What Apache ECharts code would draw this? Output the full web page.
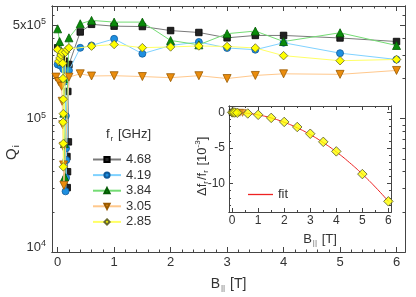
<!DOCTYPE html>
<html><head><meta charset="utf-8">
<script src="https://cdn.jsdelivr.net/npm/echarts@6/dist/echarts.min.js"></script>
<style>html,body{margin:0;padding:0;background:#fff}#c{width:416px;height:297px}</style>
</head><body><div id="c"></div>
<script>
// ---- data ----
const seriesNames = ['4.68','4.19','3.84','3.05','2.85'];
const B_468 = [0, 0.07, 0.12, 0.16, 0.18, 0.19, 0.165, 0.175, 0.17, 0.2, 0.4, 0.6, 1.0, 1.5, 2.0, 2.5, 3.0, 3.5, 4.0, 5.0, 6.0];
const Q_468 = [3.4e5, 2.95e5, 2.7e5, 2.3e5, 1.6e5, 6.7e4, 5.2e4, 4.0e4, 3.04e4, 2.55e5, 4.47e5, 5.1e5, 4.94e5, 4.91e5, 4.58e5, 4.43e5, 4.04e5, 4.21e5, 4.21e5, 4.03e5, 3.79e5];
const B_419 = [0, 0.05, 0.1, 0.13, 0.145, 0.15, 0.155, 0.15, 0.14, 0.2, 0.4, 0.6, 1.0, 1.5, 2, 2.5, 3, 3.5, 4, 5, 6];
const Q_419 = [2.55e5, 2.5e5, 2.35e5, 1.9e5, 1.05e5, 6e4, 4.9e4, 3.6e4, 2.85e4, 2.3e5, 3.4e5, 3.54e5, 3.97e5, 3.07e5, 3.54e5, 3.76e5, 3.39e5, 3.29e5, 3.71e5, 3.1e5, 2.78e5];
const B_384 = [0, 0.035, 0.06, 0.08, 0.1, 0.11, 0.12, 0.125, 0.2, 0.4, 0.6, 1.0, 1.5, 2, 2.5, 3, 3.5, 4, 5, 6];
const Q_384 = [4.72e5, 3.79e5, 3.2e5, 2.7e5, 2.0e5, 1.1e5, 6.5e4, 3.66e4, 4.04e5, 5.15e5, 5.46e5, 5.3e5, 5.3e5, 3.86e5, 3.58e5, 4.34e5, 4.54e5, 3.79e5, 4.41e5, 3.54e5];
const B_305 = [-0.03, 0.02, 0.07, 0.08, 0.09, 0.1, 0.105, 0.11, 0.2, 0.4, 0.6, 1.0, 1.5, 2, 2.5, 3, 3.5, 4, 5, 6];
const Q_305 = [2.05e5, 1.9e5, 1.75e5, 1.35e5, 9e4, 6.2e4, 4.5e4, 3.16e4, 2.05e5, 2.17e5, 2.09e5, 2.1e5, 2.07e5, 2.03e5, 2.1e5, 2.0e5, 2.11e5, 2.17e5, 2.15e5, 2.3e5];
const B_285 = [0, 0.02, 0.04, 0.06, 0.08, 0.09, 0.095, 0.1, 0.1, 0.095, 0.1, 0.1, 0.14, 0.17, 0.2, 0.6, 1, 1.5, 2, 2.5, 3, 3.5, 4, 5, 6];
const Q_285 = [3.3e5, 2.7e5, 2.85e5, 3.0e5, 3.15e5, 2.6e5, 2.0e5, 1.4e5, 1.09e5, 9.4e4, 6.5e4, 4.35e4, 3.15e5, 3.3e5, 3.4e5, 3.5e5, 3.6e5, 3.41e5, 3.45e5, 3.51e5, 3.48e5, 3.39e5, 2.97e5, 2.72e5, 2.78e5];

// inset
const insetB = [0, 0.05, 0.1, 0.2, 0.6, 1, 1.5, 2, 2.5, 3, 3.5, 4, 5, 6];
const insetDf = [0, 0, -0.02, -0.05, -0.15, -0.34, -0.77, -1.34, -2.05, -3.0, -4.14, -5.48, -8.67, -12.5];
const insetDarkB = [0, 0.05, 0.1, 0.15];
const insetDarkDf = [0, 0, 0, -0.02];
const insetOrangeB = [0.3, 0.4];
const insetOrangeDf = [-0.05, -0.07];
const fitB = [0.1, 0.5, 1, 1.5, 2, 2.5, 3, 3.5, 4, 4.5, 5, 5.5, 6];
const fitDf = [0, -0.09, -0.35, -0.78, -1.39, -2.17, -3.12, -4.25, -5.55, -7.03, -8.68, -10.5, -12.5];

// ticks
const xMajorTicks = [0, 1, 2, 3, 4, 5, 6];
const yMajorTicks = [1e4, 1e5, 5e5];
const yMinorTicks = [2e4, 3e4, 4e4, 5e4, 6e4, 7e4, 8e4, 9e4, 2e5, 3e5, 4e5, 6e5, 7e5];
const insetYMajorTicks = [0, -5, -10];

// ---- chart ----
const FONT = 'Liberation Sans, Arial, sans-serif';
const AX = '#444';
const xMinorTicks = []; for (let i = 0; i <= 30; i++) xMinorTicks.push(+(i * 0.2).toFixed(2));
const insetXMinor = []; for (let i = 0; i <= 12; i++) insetXMinor.push(i * 0.5);
const insetYMinor = []; for (let i = -14; i <= 0; i++) insetYMinor.push(i);
const lg = v => Math.log10(v);
const yMin = 1e4, yMax = 7e5;

function zipData(bs, qs) { return bs.map((b, i) => [b, qs[i]]); }

function deco(kind, grid, pos, min, max, ticks, len, labelCfg, z) {
  return {
    gridIndex: grid, type: 'value', position: pos, min: min, max: max,
    axisLine: {show: true, onZero: false, lineStyle: {color: AX, width: 1}},
    splitLine: {show: false},
    axisTick: {show: true, inside: true, length: len, customValues: ticks, lineStyle: {color: AX, width: 1}},
    axisLabel: labelCfg || {show: false},
    z: z || 0
  };
}

const labelRich = {
  b: {fontSize: 13, fontFamily: FONT, color: '#333'},
  sup: {fontSize: 9, fontFamily: FONT, color: '#333', verticalAlign: 'top', padding: [0, 0, 7, 0]},
  sp: {fontSize: 9, lineHeight: 10}
};
function yLabelFmt(v) {
  if (Math.abs(v - 4) < 1e-6) return '{b|10}{sup|4}\n{sp| }';
  if (Math.abs(v - 5) < 1e-6) return '{b|10}{sup|5}';
  return '{b|5x10}{sup|5}';
}

const xAxes = [
  Object.assign(deco('x', 0, 'bottom', -0.1, 6.15, xMajorTicks, 5,
    {show: true, customValues: xMajorTicks, margin: 4, fontSize: 13, fontFamily: FONT, color: '#333'}), {
    name: '{b|B}{s|||}{b| [T]}', nameLocation: 'middle', nameGap: 24,
    nameTextStyle: {rich: {b: {fontSize: 14, fontFamily: FONT, color: '#333'}, s: {fontSize: 8, fontFamily: FONT, color: '#666', padding: [8, 1, 0, 1]}}}
  }),
  deco('x', 0, 'bottom', -0.1, 6.15, xMinorTicks, 2.5),
  deco('x', 0, 'top', -0.1, 6.15, xMajorTicks, 5),
  deco('x', 0, 'top', -0.1, 6.15, xMinorTicks, 2.5),
  Object.assign(deco('x', 1, 'bottom', -0.12, 6.1, xMajorTicks, 4,
    {show: true, customValues: xMajorTicks, margin: 3, fontSize: 12, fontFamily: FONT, color: '#333'}, 6), {
    name: '{b|B}{s|||}{b| [T]}', nameLocation: 'middle', nameGap: 19,
    nameTextStyle: {padding: [0, 0, 0, 20], rich: {b: {fontSize: 13, fontFamily: FONT, color: '#333'}, s: {fontSize: 8, fontFamily: FONT, color: '#666', padding: [8, 1, 0, 1]}}}
  }),
  deco('x', 1, 'bottom', -0.12, 6.1, insetXMinor, 2, null, 6),
  deco('x', 1, 'top', -0.12, 6.1, xMajorTicks, 4, null, 6),
  deco('x', 1, 'top', -0.12, 6.1, insetXMinor, 2, null, 6)
];

const yAxes = [
  {gridIndex: 0, type: 'log', logBase: 10, min: yMin, max: yMax, show: false},
  deco('y', 0, 'left', lg(yMin), lg(yMax), yMajorTicks.map(lg), 5,
    {show: true, customValues: yMajorTicks.map(lg), margin: 6, formatter: yLabelFmt, rich: labelRich}),
  deco('y', 0, 'left', lg(yMin), lg(yMax), yMinorTicks.map(lg), 2.5),
  deco('y', 0, 'right', lg(yMin), lg(yMax), yMajorTicks.map(lg), 5),
  deco('y', 0, 'right', lg(yMin), lg(yMax), yMinorTicks.map(lg), 2.5),
  deco('y', 1, 'left', -14, 0.9, insetYMajorTicks, 4,
    {show: true, customValues: insetYMajorTicks, margin: 4, fontSize: 12, fontFamily: FONT, color: '#333'}, 6),
  deco('y', 1, 'left', -14, 0.9, insetYMinor, 2, null, 6),
  deco('y', 1, 'right', -14, 0.9, insetYMajorTicks, 4, null, 6),
  deco('y', 1, 'right', -14, 0.9, insetYMinor, 2, null, 6)
];

const styles = [
  {symbol: 'rect', size: 6.5, color: '#222', border: '#000', line: '#7a7a7a', rot: 0},
  {symbol: 'circle', size: 7, color: '#1e8fe0', border: '#105a9a', line: '#7fd2ff', rot: 0},
  {symbol: 'triangle', size: 8, color: '#0a8c0a', border: '#045a04', line: '#74dc74', rot: 0},
  {symbol: 'triangle', size: 8, color: '#ea8c0c', border: '#9a5a00', line: '#ffc88c', rot: 180},
  {symbol: 'diamond', size: 8.5, color: '#ffff00', border: '#6a6a30', line: '#ffff66', rot: 0}
];
const mainData = [zipData(B_468, Q_468), zipData(B_419, Q_419), zipData(B_384, Q_384), zipData(B_305, Q_305), zipData(B_285, Q_285)];

const series = seriesNames.map((n, i) => ({
  name: n, type: 'line', xAxisIndex: 0, yAxisIndex: 0, data: mainData[i],
  symbol: styles[i].symbol, symbolSize: styles[i].size, symbolRotate: styles[i].rot, showAllSymbol: true,
  itemStyle: {color: styles[i].color, borderColor: styles[i].border, borderWidth: 0.8},
  lineStyle: {color: styles[i].line, width: 1}, z: 2 + i, animation: false
}));

series.push({
  name: 'fit', type: 'line', xAxisIndex: 4, yAxisIndex: 5, data: zipData(fitB, fitDf), smooth: true,
  showSymbol: false, symbol: 'none', lineStyle: {color: '#ee2222', width: 1}, itemStyle: {color: '#ee2222'}, z: 7, animation: false
});
series.push({
  name: 'inset-dark', type: 'scatter', xAxisIndex: 4, yAxisIndex: 5, data: zipData(insetDarkB, insetDarkDf),
  symbol: 'rect', symbolSize: 6, itemStyle: {color: '#3a3a20', borderColor: '#000', borderWidth: 0.6}, z: 8, animation: false
});
series.push({
  name: 'inset-orange', type: 'scatter', xAxisIndex: 4, yAxisIndex: 5, data: zipData(insetOrangeB, insetOrangeDf),
  symbol: 'triangle', symbolRotate: 180, symbolSize: 7, itemStyle: {color: '#ea8c0c', borderColor: '#9a5a00', borderWidth: 0.6}, z: 8, animation: false
});
series.push({
  name: 'inset-yellow', type: 'scatter', xAxisIndex: 4, yAxisIndex: 5, data: zipData(insetB, insetDf),
  symbol: 'diamond', symbolSize: 9.5, itemStyle: {color: '#ffff00', borderColor: '#555530', borderWidth: 1}, z: 9, animation: false
});

const chart = echarts.init(document.getElementById('c'), null, {renderer: 'canvas'});
chart.setOption({
  animation: false,
  backgroundColor: '#fff',
  grid: [
    {left: 52, right: 11, top: 6, bottom: 44, containLabel: false},
    {left: 229, right: 25, top: 106, bottom: 85, show: true, backgroundColor: '#fff', borderWidth: 0, z: 5}
  ],
  xAxis: xAxes,
  yAxis: yAxes,
  legend: [
    {data: seriesNames, orient: 'vertical', left: 87, top: 148, itemWidth: 28, itemHeight: 6.5, itemGap: 2.6,
     textStyle: {fontSize: 13, fontFamily: FONT, color: '#333', lineHeight: 13}, selectedMode: false},
    {data: [{name: 'fit', icon: 'rect'}], orient: 'vertical', left: 243, top: 183, itemWidth: 25, itemHeight: 1.3,
     itemStyle: {color: '#ee2222'}, textStyle: {fontSize: 13, fontFamily: FONT, color: '#333', lineHeight: 13}, selectedMode: false, z: 10}
  ],
  graphic: [
    {type: 'text', left: 106, top: 128, style: {
      text: '{a|f}{s|r}{a| [GHz]}', rich: {a: {fontSize: 13, fontFamily: FONT, fill: '#333'}, s: {fontSize: 8, fontFamily: FONT, fill: '#333', padding: [8, 1, 0, 1]}}}},
    {type: 'text', x: 3, y: 160, rotation: Math.PI / 2, style: {
      text: '{a|Q}{s|i}', rich: {a: {fontSize: 15, fontFamily: FONT, fill: '#333'}, s: {fontSize: 9, fontFamily: FONT, fill: '#333', padding: [9, 0, 0, 1]}}}},
    {type: 'text', x: 194, y: 196, rotation: Math.PI / 2, z: 10, style: {
      text: '{a|Δf}{s|r}{a|/f}{s|r}{a| [10}{p|-3}{a|]}',
      rich: {a: {fontSize: 13, fontFamily: FONT, fill: '#333'}, s: {fontSize: 8, fontFamily: FONT, fill: '#333', padding: [8, 1, 0, 0]}, p: {fontSize: 8, fontFamily: FONT, fill: '#333', padding: [0, 0, 8, 0]}}}}
  ],
  series: series
});
</script>
</body></html>
